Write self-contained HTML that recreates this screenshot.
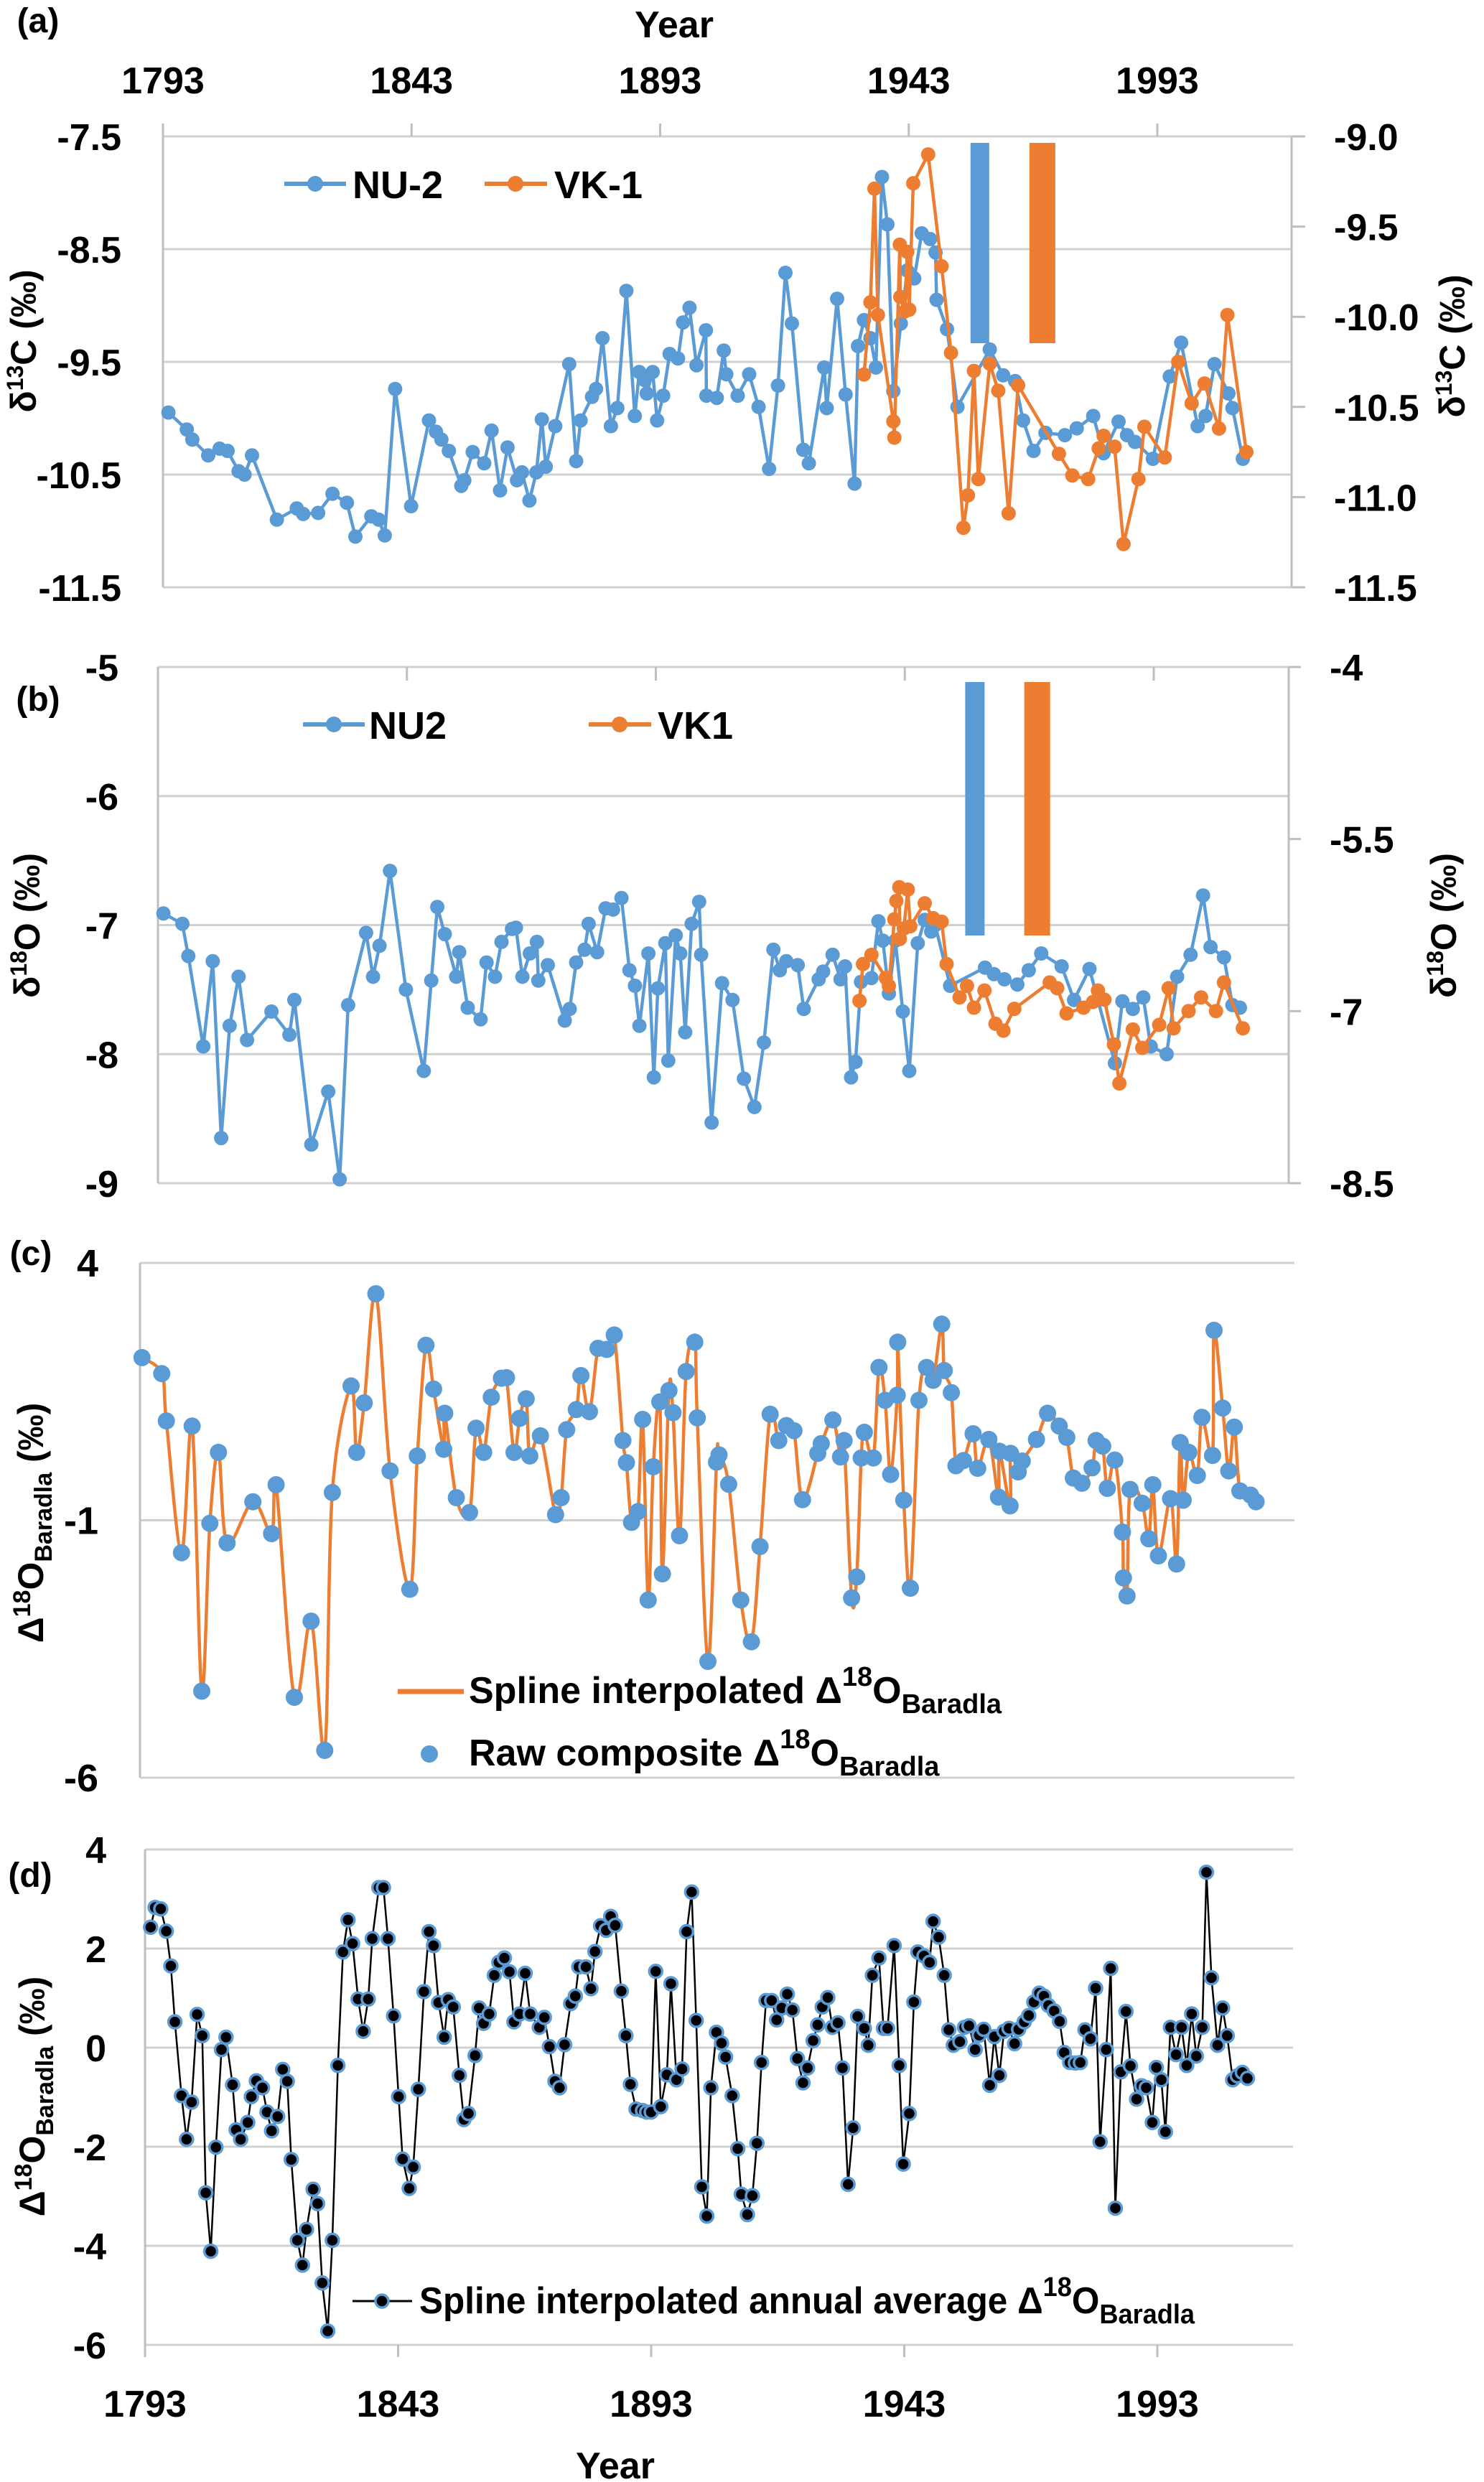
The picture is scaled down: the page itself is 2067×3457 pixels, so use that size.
<!DOCTYPE html>
<html><head><meta charset="utf-8"><style>
html,body{margin:0;padding:0;background:#fff;}
svg{display:block;font-family:"Liberation Sans",sans-serif;font-weight:bold;}
</style></head><body>
<svg id="fig" width="2067" height="3457" viewBox="0 0 2067 3457" xmlns="http://www.w3.org/2000/svg"></svg>
<script>
// ---------- Panel (a) data: delta13C ----------
const aNuYears=[1794.1,1797.8,1798.9,1802.1,1804.4,1806.0,1808.2,1809.4,1810.9,1815.9,
1819.9,1821.2,1824.2,1827.1,1830.0,1831.7,1834.9,1836.4,1837.6,1839.7,
1842.9,1846.5,1847.9,1849.0,1850.5,1853.0,1853.6,1855.3,1857.6,1859.1,
1860.8,1862.3,1864.2,1865.2,1866.7,1868.1,1869.2,1870.0,1871.9,1874.7,
1876.1,1877.0,1879.3,1880.1,1881.4,1883.1,1884.4,1886.2,1887.9,1888.8,
1889.8,1890.3,1891.5,1892.4,1893.6,1894.9,1896.6,1897.6,1898.9,1900.3,
1902.2,1902.3,1904.4,1905.8,1906.3,1908.6,1910.9,1912.8,1914.9,1916.7,
1918.2,1919.5,1921.8,1922.9,1926.0,1926.5,1928.6,1930.3,1932.1,1932.8,
1934.0,1935.3,1936.4,1937.6,1938.7,1939.9,1941.4,1942.7,1944.1,1945.6,
1947.3,1948.4,1948.6,1950.7,1952.8,1959.3,1962.0,1964.4,1966.0,1968.1,
1970.5,1974.4,1976.8,1980.1,1982.2,1985.2,1986.9,1988.5,1992.1,1995.5,
1997.8,2001.1,2002.7,2004.5,2007.3,2008.1,2010.2];
const aNuValues=[-9.95,-10.10,-10.19,-10.33,-10.27,-10.29,-10.47,-10.50,-10.33,-10.90,
-10.80,-10.85,-10.84,-10.67,-10.75,-11.05,-10.87,-10.90,-11.04,-9.74,
-10.78,-10.02,-10.12,-10.19,-10.29,-10.60,-10.55,-10.30,-10.40,-10.11,
-10.64,-10.26,-10.55,-10.48,-10.73,-10.48,-10.01,-10.43,-10.07,-9.52,
-10.38,-10.02,-9.81,-9.74,-9.29,-10.07,-9.91,-8.87,-9.98,-9.59,
-9.66,-9.78,-9.59,-10.02,-9.80,-9.43,-9.47,-9.15,-9.02,-9.53,
-9.22,-9.80,-9.82,-9.40,-9.61,-9.80,-9.61,-9.90,-10.45,-9.71,
-8.71,-9.16,-10.28,-10.40,-9.55,-9.91,-8.94,-9.79,-10.58,-9.36,
-9.13,-9.29,-9.55,-7.86,-8.28,-9.76,-9.16,-8.69,-8.76,-8.36,
-8.41,-8.53,-8.95,-9.21,-9.90,-9.39,-9.62,-9.67,-10.02,-10.29,
-10.13,-10.15,-10.09,-9.98,-10.31,-10.03,-10.15,-10.21,-10.36,-9.63,
-9.33,-10.07,-9.98,-9.52,-9.78,-9.91,-10.36];
const aVkYears=[1934.0,1935.3,1936.1,1936.8,1939.9,1940.1,1941.2,1941.3,1942.2,1942.7,
1943.1,1943.9,1946.9,1949.6,1951.5,1954.0,1954.9,1956.1,1957.0,1959.3,
1961.0,1963.1,1965.0,1973.2,1975.9,1979.1,1981.2,1982.2,1984.4,1986.2,
1989.2,1990.4,1994.5,1997.2,1999.9,2002.5,2005.4,2007.1,2010.9];
const aVkValues=[-10.32,-9.92,-9.29,-9.99,-10.58,-10.67,-9.60,-9.89,-9.97,-9.64,
-9.96,-9.26,-9.10,-9.72,-10.20,-11.17,-10.99,-10.30,-10.90,-10.26,
-10.41,-11.09,-10.38,-10.76,-10.88,-10.90,-10.73,-10.66,-10.72,-11.26,
-10.90,-10.61,-10.78,-10.25,-10.48,-10.37,-10.62,-9.99,-10.75];
const aLeftTicks=[-7.5,-8.5,-9.5,-10.5,-11.5];
const aLeftTickLabels=["-7.5","-8.5","-9.5","-10.5","-11.5"];
const aRightTicks=[-9.0,-9.5,-10.0,-10.5,-11.0,-11.5];
const aRightTickLabels=["-9.0","-9.5","-10.0","-10.5","-11.0","-11.5"];
const yearTicks=[1793,1843,1893,1943,1993];
const yearTickLabels=["1793","1843","1893","1943","1993"];
const barStartYears=[1956,1968]; // vertical marker bars (a/b)

// ---------- Panel (b) data: delta18O ----------
const bNuYears=[1794.1,1797.9,1799.1,1802.1,1804.0,1805.7,1807.4,1809.2,1810.9,1815.8,
1819.4,1820.4,1823.8,1827.2,1829.5,1831.2,1834.8,1836.2,1837.5,1839.6,
1842.8,1846.4,1847.9,1849.1,1850.6,1852.9,1853.5,1855.2,1857.8,1859.0,
1860.7,1862.0,1864.1,1864.9,1866.2,1867.7,1869.1,1869.4,1871.3,1874.7,
1875.7,1877.0,1878.7,1879.5,1881.2,1882.9,1884.4,1886.1,1887.7,1888.8,
1889.7,1891.5,1892.6,1893.4,1894.9,1895.5,1897.0,1897.9,1898.9,1900.2,
1901.7,1902.1,1904.2,1906.3,1908.4,1910.7,1912.8,1914.7,1916.6,1917.9,
1919.2,1921.5,1922.7,1925.7,1926.6,1928.5,1930.1,1931.0,1932.2,1933.1,
1934.2,1936.3,1937.7,1938.6,1939.8,1941.1,1942.6,1943.9,1945.6,1947.0,
1948.3,1949.1,1952.1,1959.1,1960.9,1963.0,1965.6,1967.9,1970.4,1974.5,
1977.0,1980.1,1985.2,1986.7,1988.8,1990.9,1992.4,1995.6,1997.7,2000.4,
2002.9,2004.4,2007.1,2008.8,2010.3];
const bNuValues=[-6.91,-6.99,-7.24,-7.94,-7.28,-8.65,-7.78,-7.40,-7.89,-7.67,
-7.85,-7.58,-8.70,-8.29,-8.97,-7.62,-7.06,-7.40,-7.16,-6.58,
-7.50,-8.13,-7.43,-6.86,-7.07,-7.40,-7.21,-7.64,-7.73,-7.29,
-7.40,-7.13,-7.03,-7.02,-7.40,-7.22,-7.13,-7.43,-7.31,-7.74,
-7.65,-7.29,-7.19,-6.99,-7.21,-6.87,-6.88,-6.79,-7.35,-7.47,
-7.78,-7.22,-8.18,-7.49,-7.14,-8.05,-7.08,-7.22,-7.83,-6.99,
-6.82,-7.23,-8.53,-7.45,-7.58,-8.19,-8.41,-7.91,-7.19,-7.35,
-7.28,-7.31,-7.65,-7.42,-7.36,-7.23,-7.42,-7.32,-8.18,-8.06,
-7.44,-7.41,-6.97,-7.12,-7.53,-7.12,-7.67,-8.13,-7.14,-6.96,
-7.05,-7.00,-7.47,-7.33,-7.38,-7.42,-7.46,-7.35,-7.22,-7.32,
-7.58,-7.34,-8.07,-7.59,-7.65,-7.56,-7.94,-8.00,-7.40,-7.23,
-6.77,-7.17,-7.25,-7.62,-7.64];
const bVkYears=[1933.9,1934.6,1936.3,1939.2,1939.8,1940.9,1941.3,1941.9,1942.0,1942.8,
1943.6,1944.1,1947.0,1948.7,1950.4,1951.4,1954.0,1955.5,1956.9,1959.0,
1961.2,1962.8,1965.0,1972.1,1973.6,1975.5,1978.9,1980.8,1981.8,1983.1,
1985.0,1986.1,1988.8,1990.7,1994.1,1996.0,1997.0,2000.0,2002.5,2005.5,
2007.1,2010.9];
const bVkValues=[-6.91,-6.59,-6.51,-6.71,-6.78,-6.20,-6.04,-5.92,-6.37,-6.28,
-5.94,-6.26,-6.06,-6.19,-6.22,-6.59,-6.88,-6.78,-6.97,-6.82,
-7.11,-7.17,-6.98,-6.75,-6.80,-7.02,-6.97,-6.92,-6.82,-6.90,
-7.29,-7.63,-7.16,-7.32,-7.12,-6.80,-7.15,-7.00,-6.88,-7.00,
-6.75,-7.15];
const bLeftTicks=[-5,-6,-7,-8,-9];
const bLeftTickLabels=["-5","-6","-7","-8","-9"];
const bRightTicks=[-4,-5.5,-7,-8.5];
const bRightTickLabels=["-4","-5.5","-7","-8.5"];

// ---------- Panel (c) data: raw composite ----------
const cYears=[1793.4,1797.3,1798.2,1801.2,1803.3,1805.2,1806.8,1808.5,1810.2,1815.3,
1819.0,1819.9,1823.5,1826.8,1829.5,1831.0,1834.7,1835.8,1837.3,1839.6,
1842.4,1846.3,1847.8,1849.5,1851.0,1853.0,1853.2,1855.5,1858.1,1859.4,
1860.9,1862.4,1864.4,1865.4,1866.9,1868.0,1869.3,1870.0,1872.1,1875.1,
1876.2,1877.3,1879.2,1880.1,1881.8,1883.5,1885.2,1886.7,1888.4,1889.1,
1890.1,1891.4,1892.3,1893.4,1894.4,1895.7,1896.2,1897.5,1898.3,1899.6,
1900.9,1902.6,1903.1,1905.2,1906.9,1907.4,1909.3,1911.7,1913.8,1915.5,
1917.5,1919.2,1920.7,1922.2,1923.9,1926.9,1927.6,1929.9,1931.4,1932.1,
1933.6,1934.6,1935.5,1936.1,1937.9,1939.0,1940.2,1941.3,1942.6,1942.7,
1943.9,1945.2,1946.9,1948.4,1949.7,1951.4,1951.9,1953.3,1954.2,1955.7,
1957.6,1958.5,1960.7,1962.6,1962.8,1964.9,1965.0,1966.5,1967.3,1970.1,
1972.3,1974.6,1976.1,1977.4,1979.1,1981.1,1981.9,1983.2,1984.1,1985.6,
1987.1,1987.3,1988.0,1988.6,1991.0,1992.3,1993.1,1994.2,1996.6,1997.8,
1998.5,1999.1,2000.2,2001.9,2002.8,2004.9,2005.2,2006.9,2008.1,2009.2,
2010.3,2012.4,2013.5];
const cValues=[2.16,1.85,0.93,-1.63,0.83,-4.32,-1.06,0.32,-1.44,-0.64,
-1.26,-0.31,-4.44,-2.96,-5.47,-0.46,1.61,0.32,1.28,3.40,
-0.04,-2.34,0.25,2.40,1.55,0.38,1.08,-0.56,-0.85,0.79,
0.32,1.39,1.76,1.77,0.32,0.98,1.36,0.25,0.64,-0.89,
-0.56,0.76,1.15,1.81,1.11,2.34,2.32,2.60,0.55,0.12,
-1.04,-0.83,0.96,-2.55,0.04,1.30,-2.04,1.52,1.09,-1.30,
1.89,2.46,0.99,-3.74,0.13,0.27,-0.30,-2.55,-3.36,-1.51,
1.06,0.55,0.84,0.74,-0.60,0.30,0.49,0.95,0.23,0.55,
-2.51,-2.10,0.21,0.71,0.21,1.97,1.33,-0.11,1.43,2.46,
-0.61,-2.32,1.33,1.97,1.72,2.81,1.91,1.48,0.06,0.16,
0.68,0.01,0.57,-0.55,0.34,-0.72,0.30,-0.06,0.15,0.57,
1.08,0.83,0.61,-0.18,-0.28,0.02,0.55,0.44,-0.38,0.17,
-1.23,-2.12,-2.47,-0.40,-0.67,-1.36,-0.31,-1.69,-0.58,-1.85,
0.51,-0.61,0.32,-0.13,1.00,0.26,2.69,1.18,-0.04,0.81,
-0.43,-0.51,-0.64];
const cTicks=[4,-1,-6];
const cTickLabels=["4","-1","-6"];

// ---------- Panel (d) data: annual average ----------
const dYears=[1794.1,1795.0,1796.1,1797.2,1798.1,1798.9,1800.2,1801.2,1802.2,1803.3,
1804.3,1805.0,1806.0,1807.0,1808.1,1809.0,1810.3,1811.0,1811.9,1813.3,
1814.0,1815.0,1816.2,1817.1,1818.0,1819.2,1820.2,1821.1,1821.9,1823.1,
1824.1,1824.9,1826.2,1827.1,1828.0,1829.1,1830.0,1831.1,1832.1,1833.1,
1834.0,1835.1,1836.1,1837.1,1837.9,1839.2,1840.1,1841.0,1842.1,1843.1,
1843.9,1845.2,1846.0,1847.0,1848.1,1849.1,1850.0,1851.0,1852.1,1852.9,
1853.9,1855.1,1856.0,1856.9,1858.2,1859.0,1859.9,1861.0,1862.0,1862.9,
1864.0,1865.0,1865.9,1867.0,1868.1,1869.1,1870.9,1871.9,1872.9,1874.0,
1874.9,1875.9,1877.1,1878.0,1878.7,1880.1,1881.1,1881.9,1883.0,1884.1,
1885.0,1885.9,1887.1,1888.0,1888.9,1890.0,1891.3,1892.1,1893.0,1893.9,
1894.9,1896.1,1896.9,1898.0,1899.1,1900.0,1901.0,1901.9,1903.0,1904.0,
1904.8,1905.9,1906.9,1907.7,1909.0,1910.1,1910.8,1912.0,1913.0,1913.9,
1914.8,1915.7,1916.8,1917.8,1918.8,1919.9,1920.9,1921.9,1923.0,1923.9,
1925.0,1925.9,1926.8,1927.9,1928.8,1929.9,1930.8,1931.9,1932.9,1933.8,
1935.1,1935.9,1936.7,1938.0,1938.9,1939.7,1941.0,1942.0,1942.8,1944.0,
1944.9,1945.7,1946.9,1948.0,1948.7,1949.8,1950.9,1951.8,1952.7,1954.0,
1954.9,1955.8,1957.0,1957.8,1958.7,1959.9,1960.8,1961.8,1962.7,1963.7,
1964.8,1965.6,1966.7,1967.6,1968.6,1969.7,1970.6,1971.5,1972.6,1973.7,
1974.6,1975.7,1976.8,1977.8,1978.7,1979.8,1980.8,1981.7,1982.9,1983.8,
1984.7,1985.8,1986.8,1987.7,1988.9,1989.9,1990.8,1992.0,1992.8,1993.8,
1994.6,1995.6,1996.7,1997.8,1998.8,1999.8,2000.7,2001.9,2002.7,2003.7,
2004.9,2005.9,2006.8,2007.9,2008.8,2009.8,2010.8];
const dValues=[2.43,2.83,2.80,2.35,1.65,0.52,-0.97,-1.85,-1.10,0.67,
0.24,-2.93,-4.11,-2.01,-0.04,0.21,-0.75,-1.66,-1.85,-1.51,
-0.99,-0.67,-0.81,-1.30,-1.68,-1.39,-0.44,-0.68,-2.26,-3.89,
-4.39,-3.67,-2.86,-3.15,-4.75,-5.72,-3.89,-0.36,1.93,2.58,
2.10,0.98,0.33,0.98,2.20,3.23,3.23,2.20,0.64,-0.99,
-2.25,-2.84,-2.41,-0.84,1.13,2.34,2.06,0.91,0.21,0.97,
0.82,-0.56,-1.45,-1.33,-0.16,0.80,0.49,0.68,1.46,1.72,
1.81,1.53,0.52,0.68,1.50,0.68,0.41,0.61,0.02,-0.68,
-0.81,0.06,0.89,1.04,1.63,1.63,1.19,1.94,2.46,2.37,
2.65,2.47,1.14,0.24,-0.74,-1.24,-1.27,-1.30,-1.30,1.54,
-1.19,-0.55,1.29,-0.65,-0.43,2.34,3.14,0.55,-2.81,-3.40,
-0.81,0.31,0.09,-0.19,-0.97,-2.04,-2.96,-3.37,-2.99,-1.93,
-0.30,0.95,0.95,0.56,0.80,1.08,0.76,-0.22,-0.71,-0.41,
0.14,0.46,0.82,1.01,0.41,0.50,-0.41,-2.76,-1.62,0.63,
0.39,0.05,1.46,1.81,0.39,0.39,2.06,-0.36,-2.35,-1.33,
0.92,1.93,1.85,1.72,2.55,2.23,1.46,0.36,0.05,0.12,
0.41,0.44,-0.04,0.25,0.37,-0.76,0.22,-0.56,0.33,0.39,
0.08,0.37,0.52,0.65,0.92,1.10,1.04,0.85,0.74,0.53,
-0.10,-0.30,-0.31,-0.30,0.36,0.18,1.20,-1.90,-0.04,1.60,
-3.24,-0.49,0.73,-0.37,-1.04,-0.77,-0.81,-1.51,-0.40,-0.65,
-1.70,0.41,-0.14,0.41,-0.36,0.68,-0.17,0.41,3.54,1.41,
0.05,0.80,0.24,-0.65,-0.57,-0.50,-0.62];
const dTicks=[4,2,0,-2,-4,-6];
const dTickLabels=["4","2","0","-2","-4","-6"];

// ---------- drawing ----------
const NS='http://www.w3.org/2000/svg';
const svg=document.getElementById('fig');
const BLUE='#5b9bd5', ORANGE='#ed7d31', GRID='#d0d0d0', AXIS='#bfbfbf';
function mk(tag,attrs,parent){const e=document.createElementNS(NS,tag);for(const k in attrs)e.setAttribute(k,attrs[k]);(parent||svg).appendChild(e);return e;}
function group(name){const g=mk('g',{});


return g;}
function txt(g,x,y,s,size,anchor,name){const t=mk('text',{x:x,y:y,'font-size':size,'text-anchor':anchor||'middle',fill:'#000'},g);t.textContent=s;


return t;}
function line(g,x1,y1,x2,y2,col,w,name){const l=mk('line',{x1:x1,y1:y1,x2:x2,y2:y2,stroke:col,'stroke-width':w},g);


return l;}
function linScale(d0,d1,r0,r1){return v=>r0+(v-d0)*(r1-r0)/(d1-d0);}

function series(g,xs,ys,X,Y,col,w,r,fill,stroke,sw,name){
  let d='';for(let i=0;i<xs.length;i++){d+=(i?'L':'M')+X(xs[i]).toFixed(1)+' '+Y(ys[i]).toFixed(1);}
  const p=mk('path',{d:d,fill:'none',stroke:col,'stroke-width':w,'stroke-linejoin':'round'},g);
  
  
  for(let i=0;i<xs.length;i++){
    const c=mk('circle',{cx:X(xs[i]).toFixed(1),cy:Y(ys[i]).toFixed(1),r:r,fill:fill,stroke:stroke||'none','stroke-width':sw||0},g);
    
    
  }
}
function rotTitle(g,x,y,parts,name){
  const t=mk('text',{x:0,y:0,'font-size':50,'text-anchor':'middle',transform:`translate(${x},${y}) rotate(-90)`},g);
  
  
  parts.forEach(p=>{const s=mk('tspan',p.a||{},t);s.textContent=p.t;});
  return t;
}

// ===== Panel (a) =====
(function(){
  const g=group('panel-a');
  const X=linScale(1793,1993,227,1612);
  const YL=linScale(-7.5,-11.5,190,818);
  const YR=linScale(-9,-11.5,190,818);
  txt(g,53,45,'(a)',48,'middle','panel-a-label');
  txt(g,939,52,'Year',52,'middle','top-x-axis-title');
  aLeftTicks.forEach((v,i)=>{line(g,227,YL(v),1799,YL(v),GRID,3,'gridline');txt(g,169,YL(v)+19,aLeftTickLabels[i],52,'end','left-y-tick-label');});
  line(g,1799,190,1818,190,AXIS,3,'axis-line');
  line(g,227,172,227,818,AXIS,3,'left-y-axis');
  line(g,1799,190,1799,818,AXIS,3,'right-y-axis');
  aRightTicks.forEach((v,i)=>{line(g,1799,YR(v),1818,YR(v),AXIS,3,'right-tick');txt(g,1858,YR(v)+19,aRightTickLabels[i],52,'start','right-y-tick-label');});
  yearTicks.forEach((yr,i)=>{line(g,X(yr),172,X(yr),190,AXIS,3,'top-x-tick');txt(g,X(yr),130,yearTickLabels[i],52,'middle','top-x-tick-label');});
  const b1=mk('rect',{x:X(barStartYears[0])-4,y:199,width:26,height:279,fill:BLUE},g);
  
  
  const b2=mk('rect',{x:X(barStartYears[1])-5,y:199,width:36,height:279,fill:ORANGE},g);
  
  
  series(g,aNuYears,aNuValues,X,YL,BLUE,4.5,10,BLUE,null,0,'nu2-d13c');
  series(g,aVkYears,aVkValues,X,YR,ORANGE,4.5,10,ORANGE,null,0,'vk1-d13c');
  const lg=group('legend-a');g.appendChild(lg);
  line(lg,396,256,482,256,BLUE,6,'legend-nu2-line');mk('circle',{cx:439,cy:256,r:11,fill:BLUE},lg);
  txt(lg,491,276,'NU-2',54,'start','legend-nu2-text');
  line(lg,675,256,762,256,ORANGE,6,'legend-vk1-line');mk('circle',{cx:718,cy:256,r:11,fill:ORANGE},lg);
  txt(lg,772,276,'VK-1',54,'start','legend-vk1-text');
  rotTitle(g,50,475,[{t:'δ'},{t:'13',a:{'font-size':32,dy:-18}},{t:'C (‰)',a:{dy:18}}],'left-y-axis-title');
  rotTitle(g,2040,482,[{t:'δ'},{t:'13',a:{'font-size':32,dy:-18}},{t:'C (‰)',a:{dy:18}}],'right-y-axis-title');
})();

// ===== Panel (b) =====
(function(){
  const g=group('panel-b');
  const X=linScale(1793,1993,220,1607);
  const YL=linScale(-5,-9,929,1648);
  const YR=linScale(-4,-8.5,929,1648);
  txt(g,53,990,'(b)',48,'middle','panel-b-label');
  bLeftTicks.forEach((v,i)=>{line(g,220,YL(v),1795,YL(v),GRID,3,'gridline');txt(g,165,YL(v)+19,bLeftTickLabels[i],52,'end','left-y-tick-label');});
  line(g,220,929,220,1648,AXIS,3,'left-y-axis');
  line(g,1795,929,1795,1648,AXIS,3,'right-y-axis');
  bRightTicks.forEach((v,i)=>{line(g,1795,YR(v),1812,YR(v),AXIS,3,'right-tick');txt(g,1852,YR(v)+19,bRightTickLabels[i],52,'start','right-y-tick-label');});
  yearTicks.slice(1).forEach(yr=>{line(g,X(yr),929,X(yr),948,AXIS,3,'top-x-tick');});
  const b1=mk('rect',{x:X(barStartYears[0])-6,y:950,width:27,height:353,fill:BLUE},g);
  
  
  const b2=mk('rect',{x:X(barStartYears[1])-7,y:950,width:36,height:353,fill:ORANGE},g);
  
  
  series(g,bNuYears,bNuValues,X,YL,BLUE,4.5,10,BLUE,null,0,'nu2-d18o');
  series(g,bVkYears,bVkValues,X,YR,ORANGE,4.5,10,ORANGE,null,0,'vk1-d18o');
  const lg=group('legend-b');g.appendChild(lg);
  line(lg,422,1009,508,1009,BLUE,6,'legend-nu2-line');mk('circle',{cx:465,cy:1009,r:11,fill:BLUE},lg);
  txt(lg,514,1029,'NU2',54,'start','legend-nu2-text');
  line(lg,820,1009,907,1009,ORANGE,6,'legend-vk1-line');mk('circle',{cx:863,cy:1009,r:11,fill:ORANGE},lg);
  txt(lg,916,1029,'VK1',54,'start','legend-vk1-text');
  rotTitle(g,55,1289,[{t:'δ'},{t:'18',a:{'font-size':32,dy:-18}},{t:'O (‰)',a:{dy:18}}],'left-y-axis-title');
  rotTitle(g,2028,1289,[{t:'δ'},{t:'18',a:{'font-size':32,dy:-18}},{t:'O (‰)',a:{dy:18}}],'right-y-axis-title');
})();

// ===== Panel (c) =====
(function(){
  const g=group('panel-c');
  const X=linScale(1793,1993,195,1605);
  const Y=linScale(4,-6,1759,2476);
  txt(g,43,1762,'(c)',48,'middle','panel-c-label');
  cTicks.forEach((v,i)=>{line(g,195,Y(v),1803,Y(v),GRID,3,'gridline');txt(g,137,Y(v)+19,cTickLabels[i],54,'end','y-tick-label');});
  line(g,195,1759,195,2476,AXIS,3,'left-y-axis');
  // Catmull-Rom spline through raw points
  const px=cYears.map(X), py=cValues.map(Y);
  let d='M'+px[0].toFixed(1)+' '+py[0].toFixed(1);
  for(let i=0;i<px.length-1;i++){
    const p0=i?i-1:i, p3=i+2<px.length?i+2:i+1;
    const c1x=px[i]+(px[i+1]-px[p0])/6, c1y=py[i]+(py[i+1]-py[p0])/6;
    const c2x=px[i+1]-(px[p3]-px[i])/6, c2y=py[i+1]-(py[p3]-py[i])/6;
    d+='C'+c1x.toFixed(1)+' '+c1y.toFixed(1)+' '+c2x.toFixed(1)+' '+c2y.toFixed(1)+' '+px[i+1].toFixed(1)+' '+py[i+1].toFixed(1);
  }
  const sp=mk('path',{d:d,fill:'none',stroke:ORANGE,'stroke-width':4.5},g);
  
  
  for(let i=0;i<cYears.length;i++){
    const c=mk('circle',{cx:X(cYears[i]).toFixed(1),cy:Y(cValues[i]).toFixed(1),r:12,fill:BLUE},g);
    
    
  }
  const lg=group('legend-c');g.appendChild(lg);
  line(lg,554,2356,646,2356,ORANGE,7,'legend-spline-line');
  const t1=mk('text',{x:653,y:2372,'font-size':52},lg);
  
  
  [['Spline interpolated Δ',{}],['18',{'font-size':38,dy:-24}],['O',{dy:24}],['Baradla',{'font-size':38,dy:14}]].forEach(p=>{const s=mk('tspan',p[1],t1);s.textContent=p[0];});
  mk('circle',{cx:598,cy:2443,r:12,fill:BLUE},lg);
  const t2=mk('text',{x:653,y:2459,'font-size':52},lg);
  
  
  [['Raw composite Δ',{}],['18',{'font-size':38,dy:-24}],['O',{dy:24}],['Baradla',{'font-size':38,dy:14}]].forEach(p=>{const s=mk('tspan',p[1],t2);s.textContent=p[0];});
  rotTitle(g,60,2121,[{t:'Δ'},{t:'18',a:{'font-size':34,dy:-18}},{t:'O',a:{dy:18}},{t:'Baradla',a:{'font-size':34,dy:12}},{t:' (‰)',a:{dy:-12}}],'y-axis-title');
})();

// ===== Panel (d) =====
(function(){
  const g=group('panel-d');
  const X=linScale(1793,1993,202,1612);
  const Y=linScale(4,-6,2576,3266);
  txt(g,42,2628,'(d)',48,'middle','panel-d-label');
  dTicks.forEach((v,i)=>{line(g,202,Y(v),1801,Y(v),GRID,3,'gridline');txt(g,148,Y(v)+19,dTickLabels[i],52,'end','y-tick-label');});
  line(g,202,2576,202,3283,AXIS,3,'left-y-axis');
  yearTicks.forEach((yr,i)=>{line(g,X(yr),3266,X(yr),3283,AXIS,3,'bottom-x-tick');txt(g,X(yr),3366,yearTickLabels[i],52,'middle','bottom-x-tick-label');});
  txt(g,857,3452,'Year',52,'middle','bottom-x-axis-title');
  series(g,dYears,dValues,X,Y,'#000',2.5,9,'#000',BLUE,3.5,'annual-average');
  const lg=group('legend-d');g.appendChild(lg);
  line(lg,491,3205,574,3205,'#000',3,'legend-annual-line');
  mk('circle',{cx:532,cy:3205,r:9,fill:'#000',stroke:BLUE,'stroke-width':3.5},lg);
  const t=mk('text',{x:584,y:3222,'font-size':52,textLength:1080,lengthAdjust:'spacingAndGlyphs'},lg);
  
  
  [['Spline interpolated annual average Δ',{}],['18',{'font-size':38,dy:-24}],['O',{dy:24}],['Baradla',{'font-size':38,dy:14}]].forEach(p=>{const s=mk('tspan',p[1],t);s.textContent=p[0];});
  rotTitle(g,62,2920,[{t:'Δ'},{t:'18',a:{'font-size':34,dy:-18}},{t:'O',a:{dy:18}},{t:'Baradla',a:{'font-size':34,dy:12}},{t:' (‰)',a:{dy:-12}}],'y-axis-title');
})();
</script>
</body></html>
